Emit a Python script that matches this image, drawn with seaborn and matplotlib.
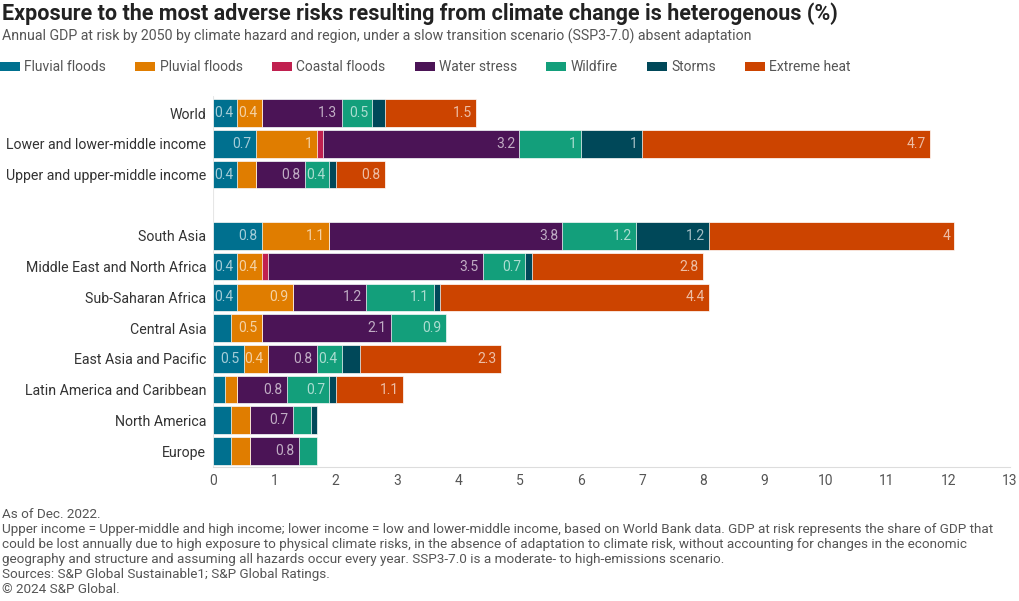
import numpy as np
import pandas as pd
import matplotlib
matplotlib.use("Agg")
import matplotlib.pyplot as plt
import matplotlib.colors as mcolors
from matplotlib.patches import Patch
import seaborn as sns

# Data (GDP at risk, %)
regions = ["World", "Lower and lower-middle income", "Upper and upper-middle income",
           "South Asia", "Middle East and North Africa", "Sub-Saharan Africa",
           "Central Asia", "East Asia and Pacific", "Latin America and Caribbean",
           "North America", "Europe"]
fluvial = [0.4, 0.7, 0.4, 0.8, 0.4, 0.4, 0.3, 0.5, 0.2, 0.3, 0.3]
pluvial = [0.4, 1.0, 0.3, 1.1, 0.4, 0.9, 0.5, 0.4, 0.2, 0.3, 0.3]
coastal = [0.0, 0.1, 0.0, 0.0, 0.1, 0.0, 0.0, 0.0, 0.0, 0.0, 0.0]
water = [1.3, 3.2, 0.8, 3.8, 3.5, 1.2, 2.1, 0.8, 0.8, 0.7, 0.8]
wildfire = [0.5, 1.0, 0.4, 1.2, 0.7, 1.1, 0.9, 0.4, 0.7, 0.3, 0.3]
storms = [0.2, 1.0, 0.1, 1.2, 0.1, 0.1, 0.0, 0.3, 0.1, 0.1, 0.0]
heat = [1.5, 4.7, 0.8, 4.0, 2.8, 4.4, 0.0, 2.3, 1.1, 0.0, 0.0]

hazards = ["Fluvial floods", "Pluvial floods", "Coastal floods", "Water stress",
           "Wildfire", "Storms", "Extreme heat"]
colors = ["#00708f", "#e07d00", "#c0204f", "#4b1456", "#139f7b", "#004859", "#cc4400"]

df = pd.DataFrame({"region": regions, "Fluvial floods": fluvial, "Pluvial floods": pluvial,
                   "Coastal floods": coastal, "Water stress": water, "Wildfire": wildfire,
                   "Storms": storms, "Extreme heat": heat})
cum = df[hazards].cumsum(axis=1)
cum["region"] = df["region"]

order = regions[:3] + [" "] + regions[3:]

sns.set_style("white")
plt.rcParams["font.family"] = ["Roboto", "DejaVu Sans"]

fig = plt.figure(figsize=(10.2, 6.01), dpi=100)
ax = fig.add_axes([0.2088, 0.223, 0.781, 0.617])

# stacked bars: draw cumulative totals from the outermost segment inwards
for hz, col in reversed(list(zip(hazards, colors))):
    sns.barplot(data=cum, x=hz, y="region", order=order, color=col, width=0.9,
                saturation=1, edgecolor="white", linewidth=0.5, ax=ax)

# value labels inside segments
ypos = {r: order.index(r) for r in regions}
for hz, col in zip(hazards, colors):
    light = tuple(np.array(mcolors.to_rgb(col)) * 0.35 + 0.65)
    for r, v, end in zip(df["region"], df[hz], cum[hz]):
        if v >= 0.35:
            ax.text(end - 0.07, ypos[r], f"{v:g}", ha="right", va="center",
                    fontsize=10, color=light)

ax.set_xlim(0, 13)
ax.set_ylim(11.52, -0.55)
ax.set_xticks(range(0, 14))
ax.set_xlabel("")
ax.set_ylabel("")
ax.axvline(0, color="#e6e6e6", lw=0.8, zorder=0)
for s in ["top", "right", "left"]:
    ax.spines[s].set_visible(False)
ax.spines["bottom"].set_color("#dddddd")
ax.tick_params(axis="x", length=0, labelsize=10, labelcolor="#555555", pad=5)
ax.tick_params(axis="y", length=0, labelsize=10.2, labelcolor="#333333", pad=5)

# titles
fig.text(0.002, 0.967, "Exposure to the most adverse risks resulting from climate change is heterogenous (%)",
         fontsize=15.5, weight="bold", color="#222222", va="baseline")
fig.text(0.002, 0.933, "Annual GDP at risk by 2050 by climate hazard and region, under a slow transition scenario (SSP3-7.0) absent adaptation",
         fontsize=10.2, color="#555555", va="baseline")

handles = [Patch(facecolor=c, edgecolor="none", label=h) for h, c in zip(hazards, colors)]
fig.legend(handles=handles, loc="center left", bbox_to_anchor=(0.0, 0.888), ncol=7,
           frameon=False, fontsize=10, handlelength=1.45, handleheight=0.72,
           handletextpad=0.3, columnspacing=2.1, borderaxespad=0, borderpad=0,
           labelcolor="#555555")

footer = ["As of Dec. 2022.",
          "Upper income = Upper-middle and high income; lower income = low and lower-middle income, based on World Bank data. GDP at risk represents the share of GDP that",
          "could be lost annually due to high exposure to physical climate risks, in the absence of adaptation to climate risk, without accounting for changes in the economic",
          "geography and structure and assuming all hazards occur every year. SSP3-7.0 is a moderate- to high-emissions scenario.",
          "Sources: S&P Global Sustainable1; S&P Global Ratings.",
          "\u00a9 2024 S&P Global."]
for i, line in enumerate(footer):
    fig.text(0.002, 1 - (518 + 15 * i) / 601, line, fontsize=9.7, color="#555555", va="baseline")

fig.savefig("out.png", dpi=100)
